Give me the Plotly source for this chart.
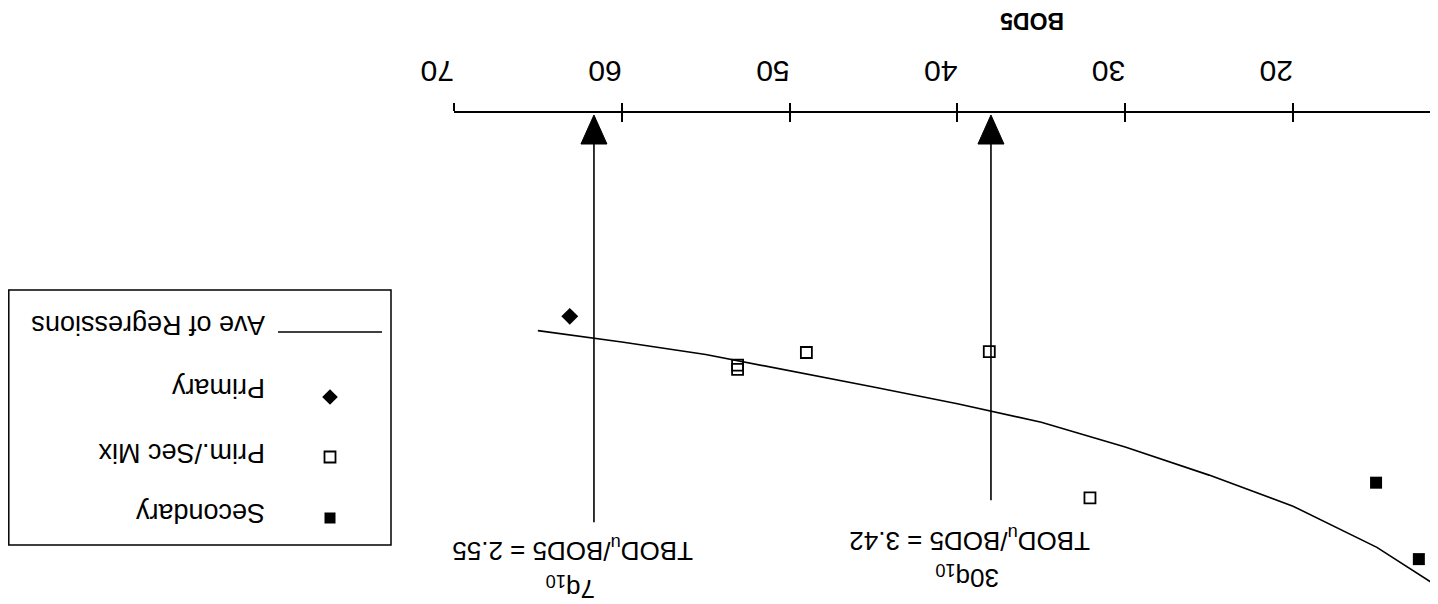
import plotly.graph_objects as go

# ---------------- data ----------------
bod5_primary = [63.1]
ratio_primary = [2.29]

bod5_mix = [53.1, 53.1, 49.0, 38.1, 32.1]
ratio_mix = [2.87, 2.92, 2.72, 2.71, 4.45]

bod5_secondary = [15.05, 12.5, 11.3, 11.3, 11.4]
ratio_secondary = [4.27, 5.18, 5.05, 5.35, 5.52]

bod5_curve = [65.0, 60, 55, 50, 45, 40, 35, 30, 25, 20, 15, 11.5]
ratio_curve = [2.46, 2.595, 2.745, 2.935, 3.13, 3.33, 3.55, 3.845, 4.18, 4.55, 5.04, 5.49]

flow_names = ["7q<sub>10</sub>", "30q<sub>10</sub>"]
flow_bod5 = [61.66, 38.0]
flow_ratio = [2.55, 3.42]
flow_line_end = [4.74, 4.48]

x_ticks = [70, 60, 50, 40, 30, 20]
legend_names = ["Ave of Regressions", "Primary", "Prim./Sec Mix", "Secondary"]

# ---------------- layout helpers ----------------
SCREEN_W, SCREEN_H = 1438, 604
OX, OY = 8, 8          # page (body) offset of the figure div
W, H = SCREEN_W - OX, SCREEN_H - OY
FONT = "Liberation Sans, Arial, sans-serif"


def px(x):
    """screen x pixel -> paper fraction"""
    return (x - OX) / W


def py(y):
    """screen y pixel -> paper fraction"""
    return 1 - (y - OY) / H


fig = go.Figure()

# regression curve
fig.add_trace(go.Scatter(x=bod5_curve, y=ratio_curve, mode="lines",
                         line=dict(color="black", width=1.6), showlegend=False))

# flow lines (vertical) from the axis down
for xb, ye in zip(flow_bod5, flow_line_end):
    fig.add_trace(go.Scatter(x=[xb, xb], y=[0, ye], mode="lines",
                             line=dict(color="black", width=1.6), showlegend=False))

# points
fig.add_trace(go.Scatter(x=bod5_primary, y=ratio_primary, mode="markers",
                         marker=dict(symbol="diamond", size=13, color="black"),
                         showlegend=False))
fig.add_trace(go.Scatter(x=bod5_mix, y=ratio_mix, mode="markers",
                         marker=dict(symbol="square-open", size=11, color="black",
                                     line=dict(width=1.8)),
                         showlegend=False))
fig.add_trace(go.Scatter(x=bod5_secondary, y=ratio_secondary, mode="markers",
                         marker=dict(symbol="square", size=12, color="black"),
                         showlegend=False))

# hand-built (upside-down) legend on a screen-pixel helper axis
leg_y = [332, 397, 457, 518]
leg_sym_x = 330
fig.add_trace(go.Scatter(x=[278, 382], y=[leg_y[0], leg_y[0]], mode="lines",
                         line=dict(color="black", width=1.6),
                         xaxis="x2", yaxis="y2", showlegend=False))
fig.add_trace(go.Scatter(x=[leg_sym_x], y=[leg_y[1]], mode="markers",
                         marker=dict(symbol="diamond", size=12, color="black"),
                         xaxis="x2", yaxis="y2", showlegend=False))
fig.add_trace(go.Scatter(x=[leg_sym_x], y=[leg_y[2]], mode="markers",
                         marker=dict(symbol="square-open", size=11, color="black",
                                     line=dict(width=1.8)),
                         xaxis="x2", yaxis="y2", showlegend=False))
fig.add_trace(go.Scatter(x=[leg_sym_x], y=[leg_y[3]], mode="markers",
                         marker=dict(symbol="square", size=11, color="black"),
                         xaxis="x2", yaxis="y2", showlegend=False))

shapes = [dict(type="rect", xref="paper", yref="paper",
               x0=px(8.8), x1=px(391), y0=py(290), y1=py(545),
               line=dict(color="black", width=1.5), fillcolor="rgba(0,0,0,0)")]

# arrow heads pointing at the axis
for xb in flow_bod5:
    shapes.append(dict(type="path", xref="x", yref="y",
                       xsizemode="pixel", ysizemode="pixel",
                       xanchor=xb, yanchor=0,
                       path="M-13,-20 L13,-20 L0,9 Z",
                       fillcolor="black", line=dict(color="black", width=1)))

annotations = []
ratio_text_y = [550, 540]
name_text_y = [588, 577]
for name, xb, r, ty, ny in zip(flow_names, flow_bod5, flow_ratio, ratio_text_y, name_text_y):
    annotations.append(dict(
        x=xb, xref="x", y=py(ty), yref="paper",
        text=f"TBOD<sub>u</sub>/BOD5 = {r:.2f}",
        showarrow=False, textangle=180, xshift=-22,
        xanchor="center", yanchor="middle",
        font=dict(family=FONT, size=26, color="black")))
    annotations.append(dict(
        x=xb, xref="x", y=py(ny), yref="paper", text=name,
        showarrow=False, textangle=180, xshift=-24,
        xanchor="center", yanchor="middle",
        font=dict(family=FONT, size=26, color="black")))

legend_text_y = [325, 388, 453, 513]
for name, ty in zip(legend_names, legend_text_y):
    annotations.append(dict(
        x=267, xref="x2", y=ty, yref="y2", text=name,
        showarrow=False, textangle=180, xanchor="right", yanchor="middle",
        font=dict(family=FONT, size=27, color="black")))

annotations.append(dict(
    x=px(1032), xref="paper", y=1, yref="paper", text="<b>BOD5</b>",
    showarrow=False, textangle=180, xanchor="center", yanchor="top",
    yshift=2,
    font=dict(family=FONT, size=23, color="black")))

# screen geometry of the main plot
AX_LEFT, AX_TOP = 454, 113      # x = 70 and axis line position on screen
PX_PER_UNIT_X = 16.78
PX_PER_UNIT_Y = 84.0
Y_ZERO = 124.0
x_right = 70 - (SCREEN_W - AX_LEFT) / PX_PER_UNIT_X
y_top = (AX_TOP - Y_ZERO) / PX_PER_UNIT_Y
y_bottom = (SCREEN_H - Y_ZERO) / PX_PER_UNIT_Y
LEG_W = 431.4

fig.update_layout(
    width=W, height=H,
    margin=dict(l=0, r=0, t=0, b=0, autoexpand=False),
    paper_bgcolor="white", plot_bgcolor="rgba(0,0,0,0)",
    showlegend=False,
    font=dict(family=FONT, color="black"),
    xaxis=dict(domain=[(AX_LEFT - OX) / W, 1], range=[70, x_right], side="top",
               anchor="y", showline=True, linecolor="black", linewidth=2,
               ticks="outside", ticklen=8, tickwidth=1.5, tickcolor="black",
               tickvals=x_ticks, ticktext=[str(v) for v in x_ticks],
               tickangle=180, tickfont=dict(family=FONT, size=30, color="black"),
               ticklabelstandoff=0, automargin=False,
               showgrid=False, zeroline=False),
    xaxis3=dict(matches="x", overlaying="x", side="top", anchor="y",
                ticks="inside", ticklen=9, tickwidth=1.5, tickcolor="black",
                tickvals=x_ticks, showticklabels=False, showline=False,
                automargin=False, showgrid=False, zeroline=False),
    yaxis=dict(domain=[0, 1 - (AX_TOP - OY) / H], range=[y_bottom, y_top],
               visible=False, showgrid=False, zeroline=False, automargin=False),
    xaxis2=dict(domain=[0, LEG_W / W], range=[OX, OX + LEG_W], visible=False,
                anchor="y2", showgrid=False, zeroline=False, automargin=False),
    yaxis2=dict(domain=[0, 1], range=[SCREEN_H, OY], visible=False, anchor="x2",
                showgrid=False, zeroline=False, automargin=False),
    shapes=shapes,
    annotations=annotations,
)

# invisible trace so the overlay axis carrying the inner tick marks is drawn
fig.add_trace(go.Scatter(x=[x_ticks[0]], y=[0], xaxis="x3", yaxis="y",
                         mode="markers", marker=dict(opacity=0), showlegend=False,
                         hoverinfo="skip"))

fig.write_html("out.html")
